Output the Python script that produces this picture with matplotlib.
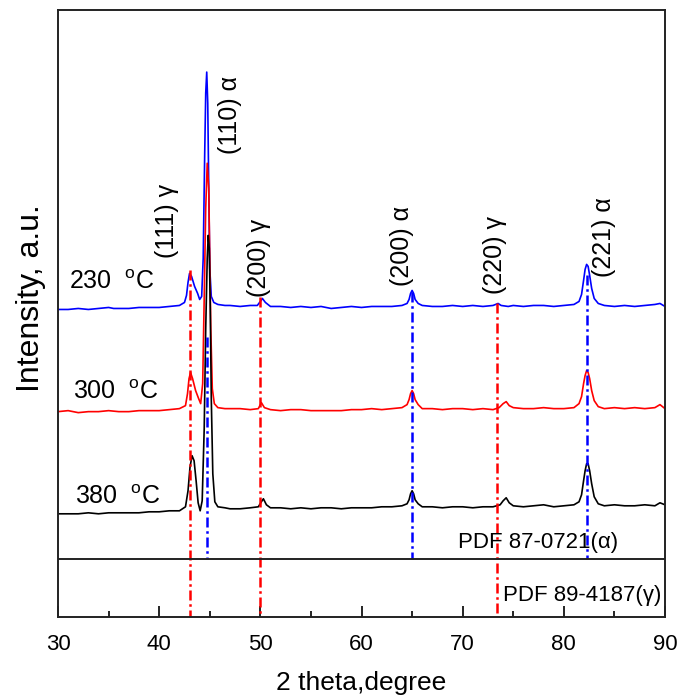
import numpy as np
import matplotlib.pyplot as plt
from matplotlib.ticker import MultipleLocator

plt.rcParams['font.family'] = ['Liberation Sans', 'DejaVu Sans']
plt.rcParams['mathtext.fontset'] = 'custom'
plt.rcParams['mathtext.rm'] = 'Liberation Sans'

# ---- data (2theta in degrees, intensity in a.u. incl. offset) ----
x_230 = [30.0, 31.0, 32.0, 33.0, 34.0, 35.0, 35.5, 36.0, 37.0, 38.0, 39.0, 40.0, 41.0, 42.0,
         42.5, 42.7, 42.85, 43.0, 43.2, 43.5, 43.8, 44.0, 44.2, 44.35, 44.5, 44.6, 44.7, 44.8,
         44.9, 45.0, 45.15, 45.4, 45.8, 46.5, 47.0, 48.0, 49.0, 49.7, 50.0, 50.2, 50.5, 51.0,
         52.0, 53.0, 54.0, 55.0, 56.0, 57.0, 58.0, 59.0, 60.0, 61.0, 62.0, 63.0, 64.0, 64.5,
         64.7, 64.85, 65.0, 65.15, 65.3, 65.6, 66.0, 67.0, 68.0, 69.0, 70.0, 71.0, 72.0, 73.0,
         73.5, 73.8, 74.5, 75.0, 76.0, 77.0, 78.0, 79.0, 80.0, 81.0, 81.5, 81.75, 81.95, 82.1,
         82.25, 82.4, 82.55, 82.75, 83.0, 83.4, 84.0, 85.0, 86.0, 87.0, 88.0, 89.0, 89.5, 90.0]
y_230 = [249, 249, 250, 249, 250, 251, 250, 250, 250, 251, 251, 251, 252, 253,
         256, 263, 276, 285, 282, 272, 265, 259, 262, 300, 405, 465, 486, 455,
         370, 290, 262, 256, 254, 253, 253, 252, 253, 253, 257, 260, 256, 252,
         252, 251, 252, 251, 252, 250, 251, 252, 251, 252, 252, 252, 253, 255,
         259, 265, 268, 265, 259, 255, 253, 252, 252, 253, 252, 253, 252, 253,
         255, 253, 252, 253, 252, 253, 253, 252, 253, 254, 257, 264, 278, 289,
         294, 292, 283, 270, 260, 255, 253, 252, 253, 252, 253, 254, 255, 252]

x_300 = [30, 31, 32, 33, 34, 35, 36, 37, 38, 39, 40, 41, 42, 42.6, 42.8, 42.95, 43.1, 43.3,
         43.6, 43.9, 44.1, 44.3, 44.45, 44.6, 44.75, 44.9, 45.0, 45.1, 45.25, 45.45, 45.8,
         46.5, 47, 48, 49, 49.8, 50.1, 50.4, 51, 52, 53, 54, 55, 56, 57, 58, 59, 60, 61, 62,
         63, 64, 64.5, 64.7, 64.85, 65.0, 65.15, 65.3, 65.6, 66, 67, 68, 69, 70, 71, 72, 73,
         73.6, 74.0, 74.3, 74.6, 75, 76, 77, 78, 79, 80, 81, 81.5, 81.75, 81.95, 82.1, 82.25,
         82.4, 82.55, 82.75, 83.0, 83.4, 84, 85, 86, 87, 88, 89, 89.5, 90]
y_300 = [147, 148, 146, 147, 147, 148, 147, 147, 148, 148, 148, 149, 150, 153, 165, 180, 186, 180,
         168, 160, 155, 175, 260, 350, 395, 370, 300, 230, 170, 155, 151,
         150, 150, 150, 149, 150, 156, 151, 149, 148, 149, 149, 148, 148, 148, 148, 149, 149, 150, 149,
         150, 151, 154, 159, 165, 168, 165, 159, 154, 150, 150, 149, 150, 150, 149, 150, 149,
         151, 155, 157, 153, 151, 150, 150, 151, 150, 150, 151, 155, 162, 175, 183, 188,
         186, 180, 168, 158, 152, 150, 151, 150, 151, 150, 151, 154, 150]

x_380 = [30, 31, 32, 33, 34, 35, 36, 37, 38, 39, 40, 41, 42, 42.6, 42.85, 43.05, 43.25, 43.45,
         43.65, 43.85, 44.05, 44.25, 44.45, 44.6, 44.75, 44.85, 44.95, 45.05, 45.15, 45.3,
         45.5, 45.8, 46.5, 47, 48, 49, 49.8, 50.1, 50.3, 50.6, 51, 52, 53, 54, 55, 56, 57, 58,
         59, 60, 61, 62, 63, 64, 64.5, 64.7, 64.85, 65.0, 65.15, 65.3, 65.6, 66, 67, 68, 69,
         70, 71, 72, 73, 73.7, 74.0, 74.3, 74.6, 75, 76, 77, 78, 79, 80, 81, 81.5, 81.75,
         81.95, 82.1, 82.25, 82.4, 82.55, 82.75, 83.0, 83.4, 84, 85, 86, 87, 88, 89, 89.5, 90]
y_380 = [45, 45, 45, 46, 45, 46, 46, 46, 46, 47, 47, 48, 48, 52, 68, 92, 103, 98,
         78, 56, 48, 58, 130, 230, 300, 323, 310, 250, 160, 85,
         57, 52, 51, 50, 50, 51, 52, 57, 60, 54, 51, 51, 50, 51, 50, 51, 51, 50,
         51, 51, 51, 52, 52, 53, 55, 59, 65, 68, 65, 59, 55, 52, 52, 51, 52,
         52, 51, 52, 52, 54, 58, 61, 56, 53, 52, 53, 54, 52, 53, 54, 57, 64,
         78, 88, 95, 95, 88, 75, 62, 55, 53, 54, 53, 53, 54, 53, 56, 54]

temps = ['230', '300', '380']

# reference lines: PDF 89-4187 (gamma) and PDF 87-0721 (alpha)
gamma_pos = [43.0, 50.0, 73.4]
gamma_top = [288, 261, 255]
alpha_pos = [44.7, 65.0, 82.3]
alpha_top = [222, 266, 283]

peak_labels = ['(111) γ', '(110) α', '(200) γ', '(200) α', '(220) γ', '(221) α']
peak_label_x = [40.8, 47.0, 49.9, 64.0, 73.2, 84.0]
peak_label_y = [300, 404, 261, 272, 264, 281]

# ---- plot ----
fig = plt.figure(figsize=(6.77, 6.97), dpi=100)
ax = fig.add_axes([0.0857, 0.1148, 0.8966, 0.8709])

ax.plot(x_230, y_230, color='#0000ff', lw=1.2)
ax.plot(x_300, y_300, color='#ff0000', lw=1.2)
ax.plot(x_380, y_380, color='black', lw=1.2)

dash = (4, 1.5, 1, 1.5)
for p, t in zip(gamma_pos, gamma_top):
    ax.plot([p, p], [t, -58], color='#ff0000', lw=1.8, dashes=dash)
for p, t in zip(alpha_pos, alpha_top):
    ax.plot([p, p], [t, 0], color='#0000ff', lw=1.8, dashes=dash)

ax.axhline(0, color='#222222', lw=1.4)

for lab, px, py in zip(peak_labels, peak_label_x, peak_label_y):
    ax.text(px, py, lab, rotation=90, ha='center', va='bottom', fontsize=18)

temp_x = [31.1, 31.5, 31.7]
temp_y = [269, 160, 55]
for t, tx, ty in zip(temps, temp_x, temp_y):
    ax.text(tx, ty, t + r'  $^{\mathregular{o}}$C', fontsize=18, va='baseline')

ax.text(69.5, 11, 'PDF 87-0721(α)', fontsize=16, va='baseline')
ax.text(74.0, -42, 'PDF 89-4187(γ)', fontsize=16, va='baseline')

ax.set_xlim(30, 90)
ax.set_ylim(-58, 548)
ax.set_yticks([])
ax.xaxis.set_major_locator(MultipleLocator(10))
ax.xaxis.set_minor_locator(MultipleLocator(5))
ax.tick_params(axis='x', which='major', direction='in', length=8, width=1.2,
               labelsize=16, pad=12)
ax.tick_params(axis='x', which='minor', direction='in', length=4, width=1.2)
for s in ax.spines.values():
    s.set_color('#222222')
    s.set_linewidth(1.4)

ax.set_xlabel('2 theta,degree', fontsize=19, labelpad=12)
ax.set_ylabel('Intensity, a.u.', fontsize=23)
ax.yaxis.set_label_coords(-0.02, 0.525)

plt.savefig('out.png', dpi=100)
